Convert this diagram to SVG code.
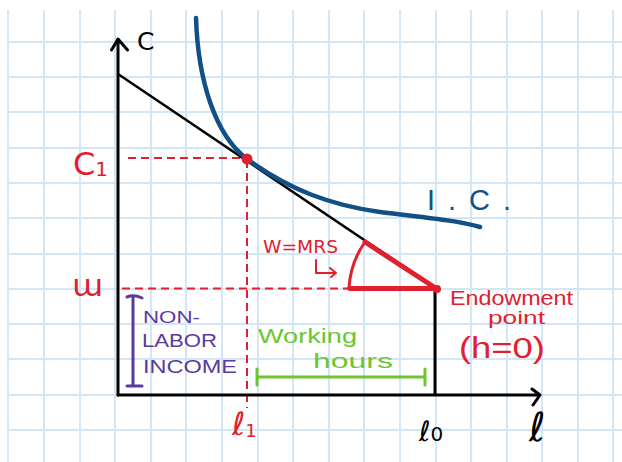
<svg xmlns="http://www.w3.org/2000/svg" width="622" height="462" viewBox="0 0 622 462">
<defs>
<style>
.grid line{stroke:#d2e6f5;stroke-width:2}
.ax{stroke:#000;stroke-width:3;fill:none;stroke-linecap:round;stroke-linejoin:round}
.dash{stroke:#e0202e;stroke-width:2;fill:none;stroke-dasharray:8 5}
.red{fill:#e0202e;font-family:"DejaVu Sans","Liberation Sans",sans-serif}
.blk{fill:#000;font-family:"DejaVu Sans","Liberation Sans",sans-serif}
.pur{fill:#5a3a9e;font-family:"Liberation Sans",sans-serif}
.grn{fill:#6cc62e;font-family:"Liberation Sans",sans-serif}
.blu{fill:#124f85;font-family:"Liberation Sans",sans-serif}
</style>
</defs>
<rect width="622" height="462" fill="#fff"/>
<g class="grid" id="grid">
<line x1="8" y1="10" x2="8" y2="462"/><line x1="44" y1="10" x2="44" y2="462"/><line x1="80" y1="10" x2="80" y2="462"/><line x1="115" y1="10" x2="115" y2="462"/><line x1="151" y1="10" x2="151" y2="462"/><line x1="186" y1="10" x2="186" y2="462"/><line x1="222" y1="10" x2="222" y2="462"/><line x1="258" y1="10" x2="258" y2="462"/><line x1="293" y1="10" x2="293" y2="462"/><line x1="329" y1="10" x2="329" y2="462"/><line x1="364" y1="10" x2="364" y2="462"/><line x1="400" y1="10" x2="400" y2="462"/><line x1="436" y1="10" x2="436" y2="462"/><line x1="471" y1="10" x2="471" y2="462"/><line x1="507" y1="10" x2="507" y2="462"/><line x1="542" y1="10" x2="542" y2="462"/><line x1="578" y1="10" x2="578" y2="462"/><line x1="613" y1="10" x2="613" y2="462"/>
<line x1="7" y1="42" x2="622" y2="42"/><line x1="7" y1="77" x2="622" y2="77"/><line x1="7" y1="112" x2="622" y2="112"/><line x1="7" y1="148" x2="622" y2="148"/><line x1="7" y1="183" x2="622" y2="183"/><line x1="7" y1="218" x2="622" y2="218"/><line x1="7" y1="254" x2="622" y2="254"/><line x1="7" y1="289" x2="622" y2="289"/><line x1="7" y1="324" x2="622" y2="324"/><line x1="7" y1="359" x2="622" y2="359"/><line x1="7" y1="395" x2="622" y2="395"/><line x1="7" y1="430" x2="622" y2="430"/>
</g>
<g id="guides">
<line class="dash" x1="128" y1="158" x2="247" y2="158"/>
<line class="dash" x1="247" y1="160" x2="247" y2="408"/>
<line class="dash" x1="122" y1="288.5" x2="350" y2="288.5"/>
</g>
<g id="axes">
<path class="ax" d="M118,395 V40 M111.5,50 L118,39 L127.5,50"/>
<path class="ax" d="M118,395 H540 M532,389 L540,395 L533,405"/>
<line x1="118" y1="74" x2="437" y2="289" stroke="#000" stroke-width="2.5"/>
<line x1="435" y1="289" x2="435" y2="395" stroke="#000" stroke-width="3"/>
</g>
<g id="indifference-curve">
<path d="M196,18 C198,80 215,135 247,159 C290,190 330,205 380,212 C430,218 460,221 480,227" fill="none" stroke="#124f85" stroke-width="4.5" stroke-linecap="round"/>
</g>
<g id="slope-triangle">
<path d="M365,242 L437,289 M350,288.5 H437" stroke="#e0202e" stroke-width="5" fill="none" stroke-linecap="round"/>
<path d="M365,242 A88,88 0 0 0 349,288" stroke="#e0202e" stroke-width="3" fill="none"/>
<path d="M316,260 V273 H335 M330,268 L336,273 L331,277" stroke="#e0202e" stroke-width="2" fill="none" stroke-linecap="round" stroke-linejoin="round"/>
<circle cx="437" cy="289" r="4" fill="#e0202e"/>
<circle cx="247" cy="159" r="5.5" fill="#e0202e"/>
</g>
<g id="non-labor-bracket">
<path d="M133,298 V385 M127,297 Q134,294 142,298 M127,386 H142" stroke="#5a3a9e" stroke-width="3" fill="none" stroke-linecap="round"/>
</g>
<g id="working-bracket">
<path d="M257,377 H425 M257,369 V385 M425,369 V385" stroke="#6cc62e" stroke-width="3" fill="none" stroke-linecap="round"/>
</g>
<g id="labels">
<text class="blk" x="137" y="50" font-size="25">C</text>
<text class="red" x="73" y="175" font-size="32">C<tspan font-size="20" dy="1">1</tspan></text>
<text class="red" x="72" y="296" font-size="30" textLength="31" lengthAdjust="spacingAndGlyphs">ɯ</text>
<text class="red" x="232" y="435" font-size="32">ℓ<tspan font-size="18" dy="2">1</tspan></text>
<text class="blk" x="419" y="441" font-size="28">ℓ<tspan font-size="20">0</tspan></text>
<text class="blk" x="529" y="441" font-size="40">ℓ</text>
<text class="blu" x="427" y="210" font-size="29" textLength="84" lengthAdjust="spacing">I.C.</text>
<text class="red" x="263" y="253" font-size="17" textLength="75" lengthAdjust="spacingAndGlyphs">W=MRS</text>
<text class="red" x="450" y="305" font-size="21" textLength="123" lengthAdjust="spacingAndGlyphs" style="font-family:'Liberation Sans',sans-serif">Endowment</text>
<text class="red" x="488" y="324" font-size="18" textLength="57" lengthAdjust="spacingAndGlyphs" style="font-family:'Liberation Sans',sans-serif">point</text>
<text class="red" x="459" y="358" font-size="29" textLength="86" lengthAdjust="spacingAndGlyphs" style="font-family:'Liberation Sans',sans-serif">(h=0)</text>
<text class="pur" x="143" y="323" font-size="17" textLength="57" lengthAdjust="spacingAndGlyphs">NON-</text>
<text class="pur" x="142" y="347" font-size="19" textLength="75" lengthAdjust="spacingAndGlyphs">LABOR</text>
<text class="pur" x="143" y="373" font-size="19" textLength="94" lengthAdjust="spacingAndGlyphs">INCOME</text>
<text class="grn" x="258" y="343" font-size="21" textLength="99" lengthAdjust="spacingAndGlyphs">Working</text>
<text class="grn" x="313" y="368" font-size="21" textLength="80" lengthAdjust="spacingAndGlyphs">hours</text>
</g>
</svg>
